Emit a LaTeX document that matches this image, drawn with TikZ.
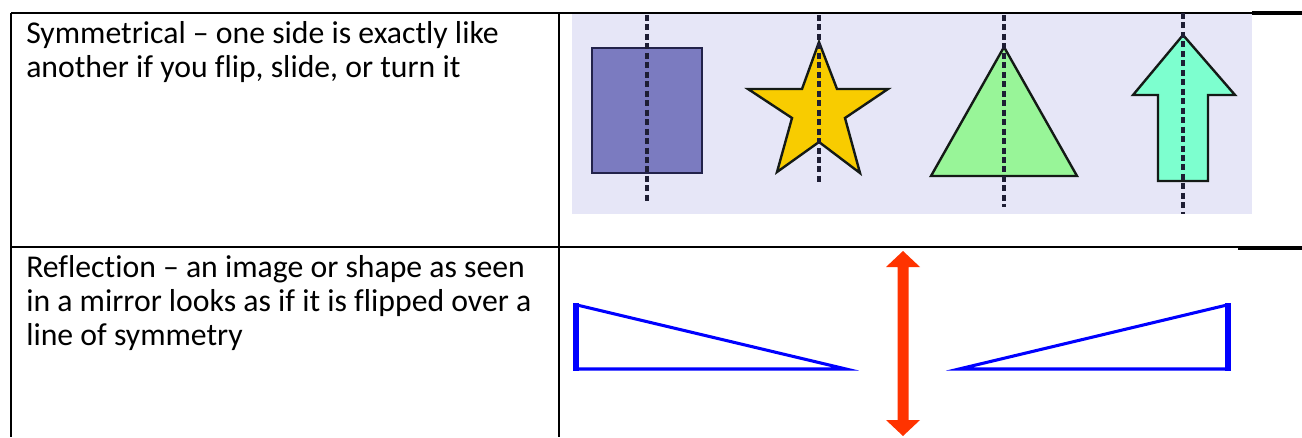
\documentclass[tikz,border=0pt]{standalone}
\usepackage{fontspec}
\setmainfont[Ligatures=NoCommon]{Carlito}
\definecolor{bgl}{HTML}{E6E6F7}
\definecolor{rectf}{HTML}{7B7BC0}
\definecolor{rectd}{HTML}{22224A}
\definecolor{starf}{HTML}{F8CC00}
\definecolor{trif}{HTML}{98F598}
\definecolor{arrf}{HTML}{7DFFCF}
\definecolor{shapeline}{HTML}{141A16}
\definecolor{dashc}{HTML}{1E1E34}
\definecolor{redarrow}{HTML}{FF3300}
\definecolor{bluetri}{HTML}{0000FF}
\tikzset{
  txt/.style={anchor=base west, inner sep=0pt, font=\fontsize{23.8}{25.5}\selectfont},
  tableline/.style={line width=1.4pt, black},
  shapeedge/.style={line width=1.8pt, draw=shapeline, line join=miter},
  symline/.style={dashc, line width=2.5pt, dash pattern=on 4.5pt off 2.6pt},
  tri/.style={draw=bluetri, line width=2.3pt, line join=miter, miter limit=20},
  triedge/.style={draw=bluetri, line width=4.5pt}
}
\begin{document}
\begin{tikzpicture}[x=0.75pt, y=-0.75pt]
\useasboundingbox (0,0) rectangle (1302,437);
\fill[white] (0,0) rectangle (1302,437);

% table lines
\draw[tableline] (11,13) -- (1302,13);
\draw[tableline] (11,247) -- (1302,247);
\draw[tableline] (11,13) -- (11,437);
\draw[tableline] (559,13) -- (559,437);
\draw[line width=2.4pt] (1252,13) -- (1302,13);
\draw[line width=2.4pt] (1238,248) -- (1302,248);

% texts
\node[txt] (s1) at (26,43) {Symmetrical – one side is exactly like};
\node[txt] (s2) at (26,77) {another if you flip, slide, or turn it};
\node[txt] (r1) at (26,277) {Reflection – an image or shape as seen};
\node[txt] (r2) at (26,311) {in a mirror looks as if it is flipped over a};
\node[txt] (r3) at (26,345) {line of symmetry};

% symmetry picture
\fill[bgl] (572,14) rectangle (1252,214);
\draw[thin, black] (572,13.5) -- (1252,13.5);
% rectangle
\filldraw[fill=rectf, draw=rectd, line width=1.8pt] (592,48) rectangle (702,173);
\draw[symline] (647,15) -- (647,203);
% star
\filldraw[fill=starf, shapeedge] (819,42) -- (837,89) -- (888,89) -- (845,118) -- (860,173) -- (819,142) -- (777,172) -- (792,118) -- (748,89) -- (802,89) -- cycle;
\draw[symline] (819,15) -- (819,184);
% triangle
\filldraw[fill=trif, shapeedge] (1004,47) -- (1077,176) -- (931,176) -- cycle;
\draw[symline] (1004,15) -- (1004,207);
% arrow
\filldraw[fill=arrf, shapeedge] (1183,35) -- (1235,95) -- (1208,95) -- (1208,181) -- (1158,181) -- (1158,95) -- (1133,95) -- cycle;
\draw[symline] (1183,13) -- (1183,214);

% reflection picture
\draw[tri] (577,305) -- (846,369) -- (577,369) -- cycle;
\draw[triedge] (576,303) -- (576,371);
\draw[tri] (1227,305) -- (959,369) -- (1227,369) -- cycle;
\draw[triedge] (1228,303) -- (1228,371);
\fill[redarrow] (903,251) -- (920,267) -- (908.5,267) -- (908.5,420) -- (920,420) -- (903,436) -- (886,420) -- (897.5,420) -- (897.5,267) -- (886,267) -- cycle;
\end{tikzpicture}
\end{document}
